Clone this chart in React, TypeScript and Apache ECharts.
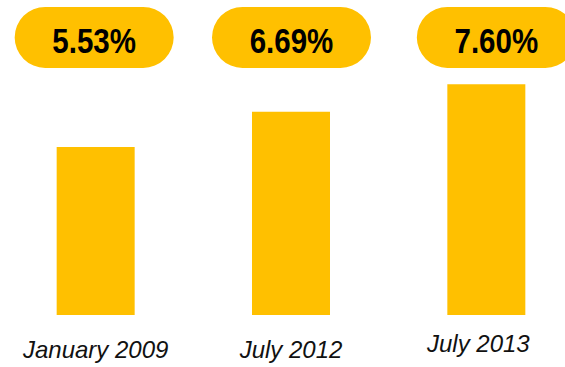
import React, { useEffect, useRef } from "react";
import * as echarts from "echarts";

const categories = ["January 2009", "July 2012", "July 2013"];
const values = [5.53, 6.69, 7.6];
const pillLabels = ["5.53%", "6.69%", "7.60%"];

const YELLOW = "#FFC000";
const PILL_Y = 9.14;
const pillOffsets = [-1.5, 0.5, 10];

export default function App() {
  const ref = useRef<HTMLDivElement>(null);
  useEffect(() => {
    if (!ref.current) return;
    const chart = echarts.init(ref.current, undefined, { renderer: "svg" });
    chart.setOption({
      animation: false,
      grid: { left: -2, right: -19, top: 11.3, bottom: 52, containLabel: false, outerBoundsMode: "none" },
      xAxis: {
        type: "category",
        data: categories.map((c, i) => ({
          value: c,
          textStyle:
            i === 2
              ? { padding: [0, 16, 0, 0] }
              : { padding: [6, 0, 0, 0] },
        })),
        axisLine: { show: false },
        axisTick: { show: false },
        axisLabel: {
          interval: 0,
          margin: 16,
          fontSize: 24,
          fontStyle: "italic",
          color: "#111",
          fontFamily: "Liberation Sans, Arial, sans-serif",
        },
      },
      yAxis: { type: "value", min: 0, max: 10, show: false, splitLine: { show: false } },
      series: [
        {
          type: "bar",
          data: values,
          barWidth: 78,
          itemStyle: { color: YELLOW },
        },
        {
          type: "custom",
          silent: true,
          data: values.map((v, i) => [i, v]),
          renderItem: (params: any, api: any) => {
            const i = params.dataIndex;
            const p = api.coord([api.value(0), PILL_Y]);
            const cx = p[0] + pillOffsets[i];
            const cy = p[1];
            const w = 159;
            const h = 61;
            return {
              type: "group",
              children: [
                {
                  type: "rect",
                  shape: { x: cx - w / 2, y: cy - h / 2, width: w, height: h, r: h / 2 },
                  style: { fill: YELLOW },
                },
                {
                  type: "text",
                  x: cx,
                  y: cy + 3,
                  scaleX: 0.82,
                  style: {
                    text: pillLabels[i],
                    x: 0,
                    y: 0,
                    align: "center",
                    verticalAlign: "middle",
                    fill: "#000",
                    fontSize: 36,
                    fontWeight: "bold",
                    fontFamily: "Liberation Sans, Arial, sans-serif",
                  },
                },
              ],
            };
          },
        },
      ],
    });
    return () => chart.dispose();
  }, []);
  return <div ref={ref} style={{ width: 565, height: 367, position: "absolute", left: 0, top: 0 }} />;
}
